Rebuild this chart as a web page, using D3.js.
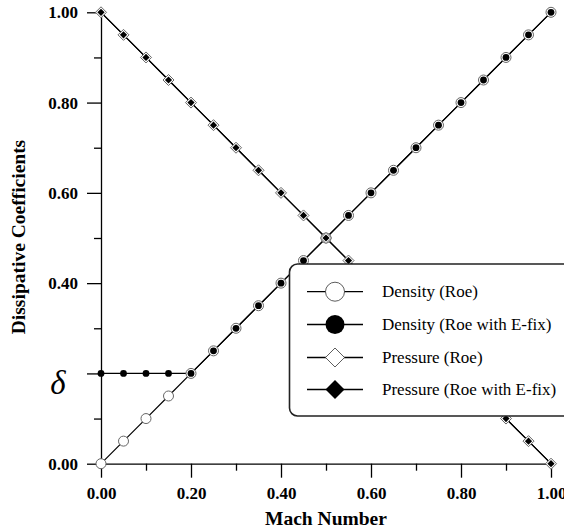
<!DOCTYPE html>
<html><head><meta charset="utf-8">
<script src="https://cdn.jsdelivr.net/npm/d3@7"></script>
<style>body{margin:0;background:#fff}svg{display:block}</style>
</head><body>
<script>
const mach = [0,0.05,0.10,0.15,0.20,0.25,0.30,0.35,0.40,0.45,0.50,0.55,0.60,0.65,0.70,0.75,0.80,0.85,0.90,0.95,1.00];
const densityRoe = [0,0.05,0.10,0.15,0.20,0.25,0.30,0.35,0.40,0.45,0.50,0.55,0.60,0.65,0.70,0.75,0.80,0.85,0.90,0.95,1.00];
const densityEfix = [0.20,0.20,0.20,0.20,0.20,0.25,0.30,0.35,0.40,0.45,0.50,0.55,0.60,0.65,0.70,0.75,0.80,0.85,0.90,0.95,1.00];
const pressureRoe = [1.00,0.95,0.90,0.85,0.80,0.75,0.70,0.65,0.60,0.55,0.50,0.45,0.40,0.35,0.30,0.25,0.20,0.15,0.10,0.05,0];
const pressureEfix = [1.00,0.95,0.90,0.85,0.80,0.75,0.70,0.65,0.60,0.55,0.50,0.45,0.40,0.35,0.30,0.25,0.20,0.15,0.10,0.05,0];
const xTicks = [0,0.2,0.4,0.6,0.8,1.0];
const yTicks = [0,0.2,0.4,0.6,0.8,1.0];
const yTickLabels = ["0.00","\u03B4","0.40","0.60","0.80","1.00"];
const minorTicks = [0.1,0.3,0.5,0.7,0.9];
const legendLabels = ["Density (Roe)","Density (Roe with E-fix)","Pressure (Roe)","Pressure (Roe with E-fix)"];

const W=564,H=532;
const svg=d3.select("body").append("svg").attr("width",W).attr("height",H);
const x=d3.scaleLinear().domain([0,1]).range([101,551]);
const y=d3.scaleLinear().domain([0,1]).range([463.7,12.3]);
const serif="'Liberation Serif','Times New Roman',serif";

// axes
const gx=svg.append("g").attr("transform",`translate(0,${y(0)})`);
gx.call(d3.axisBottom(x).tickValues(xTicks).tickSize(14).tickSizeOuter(0).tickFormat(d3.format(".2f")));
gx.append("g").call(d3.axisBottom(x).tickValues(minorTicks).tickSize(7).tickFormat(""));
const gy=svg.append("g").attr("transform",`translate(${x(0)},0)`);
gy.call(d3.axisLeft(y).tickValues(yTicks).tickSize(14).tickSizeOuter(0).tickFormat((d,i)=>yTickLabels[i]));
gy.append("g").call(d3.axisLeft(y).tickValues(minorTicks).tickSize(7).tickFormat(""));
svg.selectAll(".domain").attr("stroke","#000").attr("stroke-width",1.3);
svg.selectAll(".tick line").attr("stroke","#000").attr("stroke-width",1.3);
gx.selectAll("g > g > .domain").remove();
gy.selectAll("g > g > .domain").remove();
gx.selectAll(".tick text").attr("font-family",serif).attr("font-weight","bold").attr("font-size",17).attr("fill","#000").attr("dy","1.1em");
gy.selectAll(".tick text").attr("font-family",serif).attr("font-weight","bold").attr("font-size",17).attr("fill","#000").attr("x",-23);
gy.selectAll(".tick text").filter((d,i)=>i===1)
  .attr("font-style","italic").attr("font-weight","normal").attr("font-size",33).attr("x",-43).attr("dy","0.62em").attr("text-anchor","middle");

// titles
svg.append("text").attr("x",326).attr("y",525).attr("text-anchor","middle")
  .attr("font-family",serif).attr("font-weight","bold").attr("font-size",19.5).text("Mach Number");
svg.append("text").attr("transform",`translate(25,${237}) rotate(-90)`).attr("text-anchor","middle")
  .attr("font-family",serif).attr("font-weight","bold").attr("font-size",19.5).text("Dissipative Coefficients");

// lines
const line=d3.line().x(d=>x(d[0])).y(d=>y(d[1]));
const series=[densityRoe,densityEfix,pressureRoe,pressureEfix];
series.forEach(s=>{
  svg.append("path").datum(mach.map((m,i)=>[m,s[i]])).attr("d",line)
    .attr("fill","none").attr("stroke","#000").attr("stroke-width",1.2);
});

const diamond=(r)=>`M0,${-r}L${r},0L0,${r}L${-r},0Z`;
// markers
svg.append("g").selectAll("circle").data(mach.map((m,i)=>[m,densityRoe[i]])).join("circle")
  .attr("cx",d=>x(d[0])).attr("cy",d=>y(d[1])).attr("r",5).attr("fill","#fff").attr("stroke","#666").attr("stroke-width",1);
svg.append("g").selectAll("circle").data(mach.map((m,i)=>[m,densityEfix[i]])).join("circle")
  .attr("cx",d=>x(d[0])).attr("cy",d=>y(d[1])).attr("r",3.4).attr("fill","#000");
svg.append("g").selectAll("path").data(mach.map((m,i)=>[m,pressureRoe[i]])).join("path")
  .attr("transform",d=>`translate(${x(d[0])},${y(d[1])})`).attr("d",diamond(5.5)).attr("fill","#fff").attr("stroke","#666").attr("stroke-width",1);
svg.append("g").selectAll("path").data(mach.map((m,i)=>[m,pressureEfix[i]])).join("path")
  .attr("transform",d=>`translate(${x(d[0])},${y(d[1])})`).attr("d",diamond(3.6)).attr("fill","#000");

// legend
const lg=svg.append("g");
lg.append("rect").attr("x",289.5).attr("y",264).attr("width",320).attr("height",152).attr("rx",8)
  .attr("fill","#fff").attr("stroke","#222").attr("stroke-width",1.6);
const rowsY=[291.7,324.5,357.5,389.5];
legendLabels.forEach((t,i)=>{
  const cy=rowsY[i];
  lg.append("line").attr("x1",307).attr("x2",363).attr("y1",cy).attr("y2",cy).attr("stroke","#000").attr("stroke-width",1.3);
  if(i===0) lg.append("circle").attr("cx",335).attr("cy",cy).attr("r",9.5).attr("fill","#fff").attr("stroke","#333").attr("stroke-width",0.8);
  if(i===1) lg.append("circle").attr("cx",335).attr("cy",cy).attr("r",9.5).attr("fill","#000");
  if(i===2) lg.append("path").attr("transform",`translate(335,${cy})`).attr("d",diamond(9.5)).attr("fill","#fff").attr("stroke","#333").attr("stroke-width",0.8);
  if(i===3) lg.append("path").attr("transform",`translate(335,${cy})`).attr("d",diamond(9.5)).attr("fill","#000");
  lg.append("text").attr("x",382).attr("y",cy).attr("dy","0.33em").attr("font-family",serif).attr("font-size",17).text(t);
});
</script>
</body></html>
